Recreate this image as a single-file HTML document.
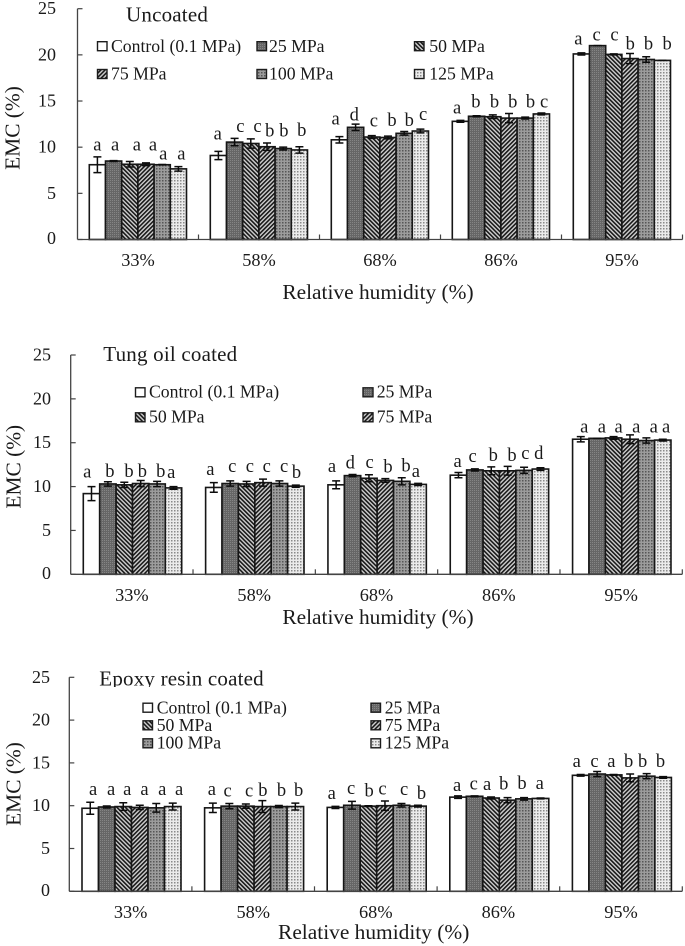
<!DOCTYPE html>
<html lang="en">
<head>
<meta charset="utf-8">
<title>EMC versus relative humidity</title>
<style>
html,body{margin:0;padding:0;background:#fff;width:685px;height:946px;overflow:hidden}
svg{display:block;filter:blur(.35px)}
text{font-family:"Liberation Serif","Times New Roman",serif;fill:#1a1a1a}
.tick{font-size:18px;text-anchor:end}
.cat{font-size:18.3px;text-anchor:middle}
.axis-title{font-size:21.4px;text-anchor:middle}
.panel-title{font-size:21px;letter-spacing:.2px}
.leg{font-size:17.7px}
.letter{font-size:18.5px;text-anchor:middle}
</style>
</head>
<body>
<svg id="figure" xmlns="http://www.w3.org/2000/svg" width="685" height="946" viewBox="0 0 685 946">
<defs>
<pattern id="fill-25" width="2" height="2" patternUnits="userSpaceOnUse"><rect width="2" height="2" fill="#666"/><rect width="1" height="1" fill="#858585"/></pattern>
<pattern id="fill-50" width="3" height="3" patternUnits="userSpaceOnUse" patternTransform="rotate(-45)"><rect width="3" height="3" fill="#d2d2d2"/><rect width="1.6" height="3" fill="#181818"/></pattern>
<pattern id="fill-75" width="3" height="3" patternUnits="userSpaceOnUse" patternTransform="rotate(45)"><rect width="3" height="3" fill="#d2d2d2"/><rect width="1.6" height="3" fill="#181818"/></pattern>
<pattern id="fill-100" width="3" height="3" patternUnits="userSpaceOnUse"><rect width="3" height="3" fill="#9c9c9c"/><rect width="1.5" height="1.5" fill="#565656"/></pattern>
<pattern id="fill-125" width="3" height="3" patternUnits="userSpaceOnUse"><rect width="3" height="3" fill="#ebebeb"/><rect width="1.5" height="1.5" fill="#8a8a8a"/></pattern>
</defs>

<g>
<text class="panel-title" x="126" y="21.7">Uncoated</text>
<text class="axis-title" transform="translate(19.5,128) rotate(-90)">EMC (%)</text>
<text class="axis-title" x="378" y="299">Relative humidity (%)</text>
<g>
<rect x="97.5" y="41.7" width="9.5" height="9" fill="#fff" stroke="#1c1c1c" stroke-width="1.4"/><text class="leg" x="111" y="52">Control (0.1 MPa)</text>
<rect x="257" y="41.7" width="9.5" height="9" fill="url(#fill-25)" stroke="#1c1c1c" stroke-width="1.4"/><text class="leg" x="269" y="52">25 MPa</text>
<rect x="414.5" y="41.7" width="9.5" height="9" fill="url(#fill-50)" stroke="#1c1c1c" stroke-width="1.4"/><text class="leg" x="429.3" y="52">50 MPa</text>
<rect x="97.5" y="69.5" width="9.5" height="9" fill="url(#fill-75)" stroke="#1c1c1c" stroke-width="1.4"/><text class="leg" x="111" y="79.5">75 MPa</text>
<rect x="257" y="69.5" width="9.5" height="9" fill="url(#fill-100)" stroke="#1c1c1c" stroke-width="1.4"/><text class="leg" x="269" y="79.5">100 MPa</text>
<rect x="414.5" y="69.5" width="9.5" height="9" fill="url(#fill-125)" stroke="#1c1c1c" stroke-width="1.4"/><text class="leg" x="429.3" y="79.5">125 MPa</text>
</g>
</g>

<g>
<text class="panel-title" x="103.3" y="361">Tung oil coated</text>
<text class="axis-title" transform="translate(20.5,466.7) rotate(-90)">EMC (%)</text>
<text class="axis-title" x="378" y="624">Relative humidity (%)</text>
<g>
<rect x="135.5" y="387.8" width="9.5" height="9" fill="#fff" stroke="#1c1c1c" stroke-width="1.4"/><text class="leg" x="149" y="397.7">Control (0.1 MPa)</text>
<rect x="363" y="387.8" width="10" height="9" fill="url(#fill-25)" stroke="#1c1c1c" stroke-width="1.4"/><text class="leg" x="376.7" y="397.7">25 MPa</text>
<rect x="135.5" y="412.8" width="9.5" height="9" fill="url(#fill-50)" stroke="#1c1c1c" stroke-width="1.4"/><text class="leg" x="149" y="422.3">50 MPa</text>
<rect x="363" y="412.8" width="10" height="9" fill="url(#fill-75)" stroke="#1c1c1c" stroke-width="1.4"/><text class="leg" x="376.7" y="422.3">75 MPa</text>
</g>
</g>

<g>
<text class="panel-title" x="99.3" y="685.7">Epoxy resin coated</text>
<rect x="90" y="687" width="200" height="8" fill="#fff"/>
<text class="axis-title" transform="translate(20.6,784) rotate(-90)">EMC (%)</text>
<text class="axis-title" x="373.7" y="939">Relative humidity (%)</text>
<g>
<rect x="143" y="703.2" width="9.5" height="9" fill="#fff" stroke="#1c1c1c" stroke-width="1.4"/><text class="leg" x="156.7" y="713.3">Control (0.1 MPa)</text>
<rect x="371" y="703.2" width="9.5" height="9" fill="url(#fill-25)" stroke="#1c1c1c" stroke-width="1.4"/><text class="leg" x="384.7" y="713.3">25 MPa</text>
<rect x="143" y="720.8" width="9.5" height="9" fill="url(#fill-50)" stroke="#1c1c1c" stroke-width="1.4"/><text class="leg" x="156.7" y="731">50 MPa</text>
<rect x="371" y="720.8" width="9.5" height="9" fill="url(#fill-75)" stroke="#1c1c1c" stroke-width="1.4"/><text class="leg" x="384.7" y="731">75 MPa</text>
<rect x="143" y="738.8" width="9.5" height="9" fill="url(#fill-100)" stroke="#1c1c1c" stroke-width="1.4"/><text class="leg" x="156.7" y="748.3">100 MPa</text>
<rect x="371" y="738.8" width="9.5" height="9" fill="url(#fill-125)" stroke="#1c1c1c" stroke-width="1.4"/><text class="leg" x="384.7" y="748.3">125 MPa</text>
</g>
</g>
</svg>

<script>
// Shared categories, series and axis ticks
const humidityCategories = ['33%', '58%', '68%', '86%', '95%'];
const pressureSeries = ['control', '25-mpa', '50-mpa', '75-mpa', '100-mpa', '125-mpa'];
const emcTicks = [0, 5, 10, 15, 20, 25];

// Uncoated: one row per humidity, one column per pressure
const uncoatedMeans = [
  [8.1, 8.5, 8.15, 8.15, 8.1, 7.65],
  [9.1, 10.55, 10.4, 10.05, 9.85, 9.7],
  [10.8, 12.15, 11.1, 11.05, 11.5, 11.75],
  [12.8, 13.35, 13.3, 13.15, 13.15, 13.6],
  [20.1, 21.0, 20.05, 19.6, 19.5, 19.4]
];
const uncoatedErrors = [
  [0.85, 0.05, 0.3, 0.15, 0.02, 0.25],
  [0.45, 0.4, 0.5, 0.4, 0.15, 0.35],
  [0.35, 0.35, 0.15, 0.15, 0.2, 0.2],
  [0.1, 0.05, 0.2, 0.5, 0.1, 0.1],
  [0.12, 0.0, 0.05, 0.55, 0.3, 0.0]
];
const uncoatedLetters = [
  ['a', 'a', 'a', 'a', 'a', 'a'],
  ['a', 'c', 'c', 'b', 'b', 'b'],
  ['a', 'd', 'c', 'b', 'b', 'c'],
  ['a', 'b', 'b', 'b', 'b', 'c'],
  ['a', 'c', 'c', 'b', 'b', 'b']
];

// Tung oil coated
const tungMeans = [
  [9.2, 10.3, 10.2, 10.35, 10.3, 9.85],
  [9.9, 10.35, 10.3, 10.45, 10.35, 10.05],
  [10.2, 11.25, 10.95, 10.7, 10.6, 10.25],
  [11.3, 11.9, 11.8, 11.8, 11.85, 12.0],
  [15.4, 15.5, 15.55, 15.4, 15.25, 15.3]
];
const tungErrors = [
  [0.8, 0.25, 0.3, 0.35, 0.3, 0.15],
  [0.55, 0.3, 0.3, 0.4, 0.3, 0.12],
  [0.45, 0.12, 0.4, 0.2, 0.4, 0.12],
  [0.3, 0.12, 0.45, 0.5, 0.35, 0.15],
  [0.3, 0.0, 0.15, 0.5, 0.3, 0.1]
];
const tungLetters = [
  ['a', 'b', 'b', 'b', 'b', 'a'],
  ['a', 'c', 'c', 'c', 'c', 'b'],
  ['a', 'd', 'c', 'b', 'b', 'a'],
  ['a', 'c', 'b', 'b', 'c', 'd'],
  ['a', 'a', 'a', 'a', 'a', 'a']
];

// Epoxy resin coated
const epoxyMeans = [
  [9.7, 9.85, 9.9, 9.8, 9.75, 9.9],
  [9.75, 9.95, 9.95, 9.9, 9.9, 9.9],
  [9.8, 10.05, 9.95, 10.0, 10.05, 9.95],
  [11.0, 11.1, 10.9, 10.65, 10.8, 10.85],
  [13.55, 13.7, 13.6, 13.25, 13.45, 13.3]
];
const epoxyErrors = [
  [0.7, 0.12, 0.45, 0.25, 0.5, 0.4],
  [0.55, 0.3, 0.25, 0.7, 0.12, 0.4],
  [0.12, 0.45, 0.05, 0.55, 0.2, 0.1],
  [0.15, 0.05, 0.12, 0.3, 0.15, 0.05],
  [0.1, 0.3, 0.05, 0.45, 0.3, 0.1]
];
const epoxyLetters = [
  ['a', 'a', 'a', 'a', 'a', 'a'],
  ['a', 'c', 'c', 'b', 'b', 'b'],
  ['a', 'c', 'b', 'c', 'c', 'b'],
  ['a', 'c', 'a', 'b', 'b', 'a'],
  ['a', 'c', 'a', 'b', 'b', 'b']
];

// Layout only: letter placement relative to each bar's top and centre
const uncoatedLetterGap = [[14.3,10.7,14,14,5,9.3],[16,10.3,11.7,10.3,12.3,13.7],[15.3,6.7,10.7,11.3,7.3,11],[8,8.7,9.3,10.7,10.7,6.3],[9.3,5,13.7,9.3,10,11]];
const uncoatedLetterShift = [[0,1.5,7,7,1,3],[-.7,5.7,6.7,2.7,.7,2.3],[-3.8,-1.3,2.1,4,5,2.7],[-3.3,-.7,1.7,3.7,5.3,2.7],[-3,-1,.7,.3,2.3,4.7]];
const tungLetterGap = [[16,7,8,6.3,7,10],[12.3,11.3,12,10.7,11.3,8.3],[12.7,7,10,7.7,10,7.3],[8.3,8,10,10,11.3,10],[6.7,6,5.3,6.7,8,7.7]];
const tungLetterShift = [[-4.3,2,4.7,1.7,3.7,-2.3],[-3.5,2,3.3,3.7,4.7,.7],[-4.2,-2.3,.7,2.7,4.2,-2.3],[-.9,-2.3,2,4.3,1.3,-1.7],[3.5,4.7,5,6.3,7.3,3.3]];
const epoxyLetterGap = [[13.3,12,11.7,12.3,13,11.7],[13,9.7,9.7,10.7,10.7,10.7],[8.3,11.3,9.7,11,10.3,7.3],[6,7,8,10.7,9.7,9.3],[8.3,7,8,11,9.3,10.3]];
const epoxyLetterShift = [[2.8,4.3,4,4.7,6,6.3],[-1,-1.8,3.3,.5,2.7,3.3],[-3.7,-.8,.7,-2.5,2.7,3.5],[-1,-.8,-4,-3.8,-2,-.8],[-3.9,-2.7,-2.3,-1.5,-4,-2.7]];

const barFills = ['#fff', 'url(#fill-25)', 'url(#fill-50)', 'url(#fill-75)', 'url(#fill-100)', 'url(#fill-125)'];
const SVG_NS = 'http://www.w3.org/2000/svg';
const figure = document.getElementById('figure');

function makeNode(tag, attrs, parent) {
  const node = document.createElementNS(SVG_NS, tag);
  Object.keys(attrs).forEach(function (key) { node.setAttribute(key, attrs[key]); });
  parent.appendChild(node);
  return node;
}

function drawChart(cfg) {
  const yOf = function (v) { return cfg.y0 - (v / 25) * (cfg.y0 - cfg.y25); };
  const catW = (cfg.xEnd - cfg.x0) / humidityCategories.length;
  const chart = makeNode('g', {}, figure);
  
  

  humidityCategories.forEach(function (cat, c) {
    const group = makeNode('g', {}, chart);
    
    
    pressureSeries.forEach(function (series, s) {
      const mean = cfg.means[c][s];
      const err = cfg.errors[c][s];
      const left = cfg.x0 + c * catW + cfg.pad + s * cfg.barW;
      const center = left + cfg.barW / 2;
      const bar = makeNode('rect', { x: left, y: yOf(mean), width: cfg.barW, height: cfg.y0 - yOf(mean), fill: barFills[s], stroke: '#161616', 'stroke-width': 1.6 }, group);
      
      
      const whisker = makeNode('path', {
        d: 'M' + center + ' ' + yOf(mean + err) + 'V' + yOf(mean - err) +
           'M' + (center - 4) + ' ' + yOf(mean + err) + 'H' + (center + 4) +
           'M' + (center - 4) + ' ' + yOf(mean - err) + 'H' + (center + 4),
        fill: 'none', stroke: '#0c0c0c', 'stroke-width': 1.5 }, group);
      
      
      const letter = makeNode('text', { class: 'letter', x: center + cfg.shift[c][s], y: yOf(mean) - cfg.gap[c][s] }, group);
      letter.textContent = cfg.letters[c][s];
      
      
    });
    const catLabel = makeNode('text', { class: 'cat', x: cfg.x0 + (c + 0.5) * catW, y: cfg.catY }, chart);
    catLabel.textContent = cat;
    
    
    const catTick = makeNode('line', { x1: cfg.x0 + (c + 1) * catW, x2: cfg.x0 + (c + 1) * catW, y1: cfg.y0, y2: cfg.y0 - 5, stroke: '#444', 'stroke-width': 1.2 }, chart);
    
    
  });

  const yAxis = makeNode('line', { x1: cfg.x0, x2: cfg.x0, y1: yOf(25), y2: cfg.y0, stroke: '#444', 'stroke-width': 1.3 }, chart);
  
  
  const xAxis = makeNode('line', { x1: cfg.x0, x2: cfg.xEnd, y1: cfg.y0, y2: cfg.y0, stroke: '#444', 'stroke-width': 1.3 }, chart);
  
  

  emcTicks.forEach(function (t) {
    const tick = makeNode('line', { x1: cfg.x0, x2: cfg.x0 + 5, y1: yOf(t), y2: yOf(t), stroke: '#444', 'stroke-width': 1.2 }, chart);
    
    
    const label = makeNode('text', { class: 'tick', x: cfg.tickX, y: yOf(t) + 5.5 - (t === 0 ? 1 : 0) }, chart);
    label.textContent = t;
    
    
  });
}

drawChart({ name: 'uncoated', means: uncoatedMeans, errors: uncoatedErrors, letters: uncoatedLetters, gap: uncoatedLetterGap, shift: uncoatedLetterShift,
  x0: 77.5, xEnd: 682.5, y0: 239.5, y25: 8.7, pad: 11.8, barW: 16.2, catY: 266, tickX: 56 });
drawChart({ name: 'tung-oil', means: tungMeans, errors: tungErrors, letters: tungLetters, gap: tungLetterGap, shift: tungLetterShift,
  x0: 70.7, xEnd: 682.3, y0: 574.3, y25: 355, pad: 12.6, barW: 16.4, catY: 601, tickX: 51 });
drawChart({ name: 'epoxy', means: epoxyMeans, errors: epoxyErrors, letters: epoxyLetters, gap: epoxyLetterGap, shift: epoxyLetterShift,
  x0: 69.3, xEnd: 682.3, y0: 891.3, y25: 677.3, pad: 12.7, barW: 16.5, catY: 918, tickX: 50 });
</script>
</body>
</html>
